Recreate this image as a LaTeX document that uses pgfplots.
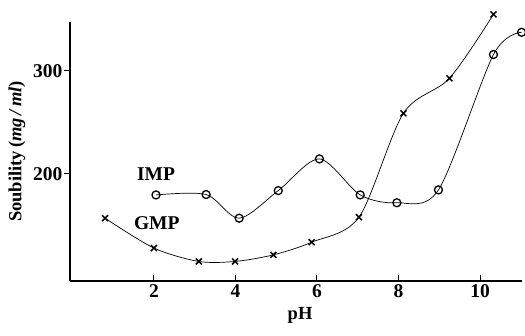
\documentclass[border=0pt]{standalone}
\usepackage{pgfplots}
\pgfplotsset{compat=1.18}
\usepackage{fontspec}
\setmainfont{Liberation Serif}
\begin{document}
\begin{tikzpicture}
\begin{axis}[
  scale only axis, width=452pt, height=259pt,
  xmin=-0.06, xmax=11.03, ymin=96, ymax=347.6,
  axis x line*=bottom, axis y line*=left,
  axis line style={line width=1.3pt, -},
  xtick={2,4,6,8,10}, ytick={200,300},
  x tick style={line width=1pt, black}, y tick style={line width=1pt, black},
  xtick align=inside, ytick align=outside,
  major tick length=6pt,
  /pgf/number format/assume math mode=true,
  tick label style={font=\fontsize{19.5}{21}\selectfont\bfseries},
  xticklabel style={yshift=0pt},
  yticklabel style={xshift=2pt},
  ylabel={Soubility\,(\textit{mg\,/\,ml})},
  xlabel={pH},
  label style={font=\fontsize{18.5}{20}\selectfont\bfseries},
  ylabel style={at={(rel axis cs:0,0.5)}, anchor=center, rotate=0, yshift=53pt},
  xlabel style={at={(rel axis cs:0.509,0)}, anchor=center, yshift=-34pt},
  clip=false,
]
\addplot[black, line width=0.7pt, smooth, mark=o, mark size=4pt, mark options={line width=1.3pt}] coordinates {
(2.05,179.6) (3.28,180) (4.09,157) (5.05,183.8) (6.06,214.6) (7.06,179.6) (7.96,172) (8.98,184.5) (10.33,316) (11.02,337.6)
};
\addplot[black, line width=0.7pt, smooth, mark=x, mark size=4.2pt, mark options={line width=1.5pt}] coordinates {
(0.80,157) (2.0,128) (3.10,115) (3.99,115) (4.93,121.4) (5.87,133.7) (7.03,158) (8.12,258.9) (9.25,292.9) (10.33,355)
};
\node[font=\fontsize{19.5}{21}\selectfont\bfseries] at (axis cs:2.05,200) {IMP};
\node[font=\fontsize{19.5}{21}\selectfont\bfseries] at (axis cs:2.07,152.4) {GMP};
\end{axis}
\pgfresetboundingbox
\useasboundingbox (-70pt,-55pt) rectangle (455pt,281pt);
\end{tikzpicture}
\end{document}
